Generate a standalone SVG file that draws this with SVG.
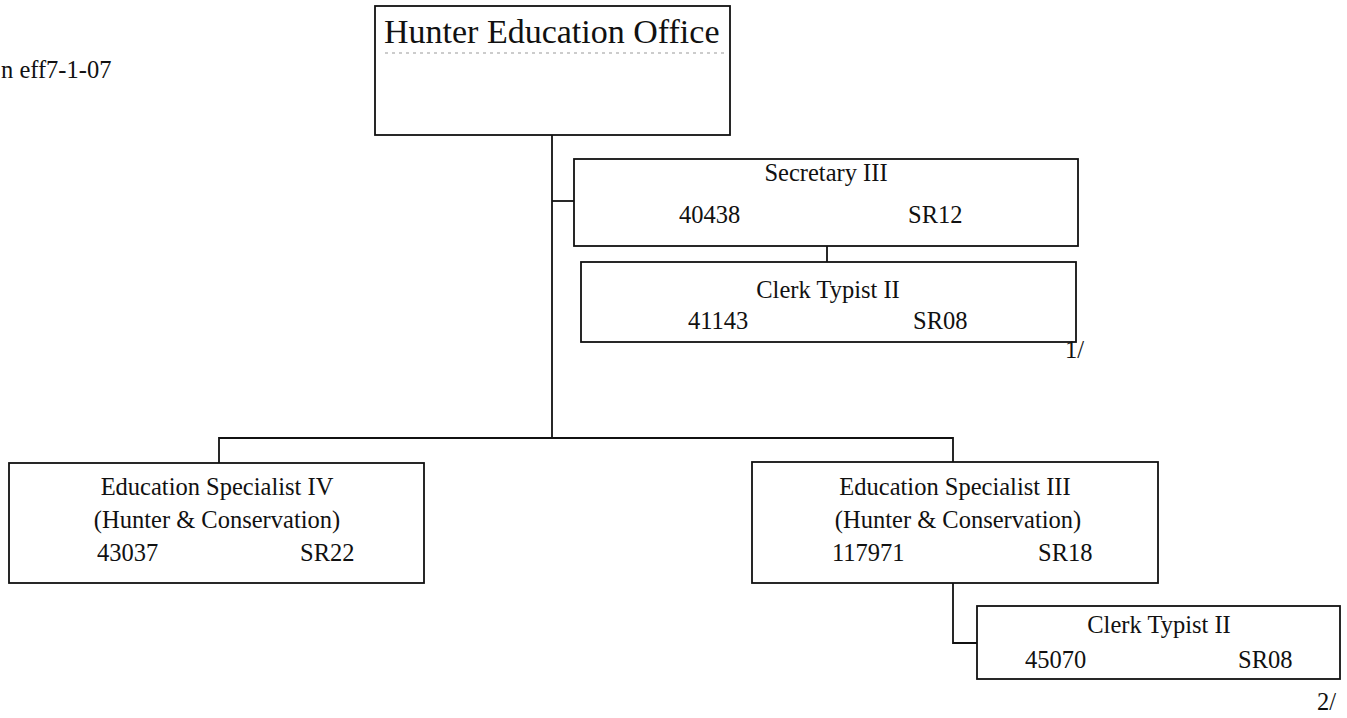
<svg xmlns="http://www.w3.org/2000/svg" width="1347" height="718" viewBox="0 0 1347 718">
<style>
.box{fill:#fff;stroke:#111;stroke-width:1.8}
.ln{fill:none;stroke:#111;stroke-width:1.8}
text{font-family:"Liberation Serif","Times New Roman",serif;fill:#111;font-size:24.5px}
.c{text-anchor:middle}
.t{font-size:34px}
</style>
<rect width="1347" height="718" fill="#fff"/>
<text x="1" y="78">n eff7-1-07</text>
<g id="connectors">
<polyline class="ln" points="552,135 552,438"/>
<polyline class="ln" points="552,201 574,201"/>
<polyline class="ln" points="827,246 827,262"/>
<polyline class="ln" points="219,463 219,438 953,438 953,462"/>
<polyline class="ln" points="953,583 953,643 977,643"/>
</g>
<g id="hunter-education-office">
<rect class="box" x="375" y="6" width="355" height="129"/>
<line x1="385" y1="53" x2="728" y2="53" stroke="#999" stroke-width="1" stroke-dasharray="3,4"/>
<text class="t" x="384" y="43">Hunter Education Office</text>
</g>
<g id="secretary-iii">
<rect class="box" x="574" y="159" width="504" height="87"/>
<text class="c" x="826" y="181">Secretary III</text>
<text x="679" y="223">40438</text>
<text x="908" y="223">SR12</text>
</g>
<g id="clerk-typist-41143">
<rect class="box" x="581" y="262" width="495" height="80"/>
<text class="c" x="828" y="298">Clerk Typist II</text>
<text x="688" y="329">41143</text>
<text x="913" y="329">SR08</text>
</g>
<text x="1065" y="358">1/</text>
<g id="education-specialist-iv">
<rect class="box" x="9" y="463" width="415" height="120"/>
<text class="c" x="217" y="495">Education Specialist IV</text>
<text class="c" x="217" y="528">(Hunter &amp; Conservation)</text>
<text x="97" y="561">43037</text>
<text x="300" y="561">SR22</text>
</g>
<g id="education-specialist-iii">
<rect class="box" x="752" y="462" width="406" height="121"/>
<text class="c" x="955" y="495">Education Specialist III</text>
<text class="c" x="958" y="528">(Hunter &amp; Conservation)</text>
<text x="832" y="561">117971</text>
<text x="1038" y="561">SR18</text>
</g>
<g id="clerk-typist-45070">
<rect class="box" x="977" y="606" width="363" height="73"/>
<text class="c" x="1159" y="633">Clerk Typist II</text>
<text x="1025" y="668">45070</text>
<text x="1238" y="668">SR08</text>
</g>
<text x="1317" y="710">2/</text>
</svg>
